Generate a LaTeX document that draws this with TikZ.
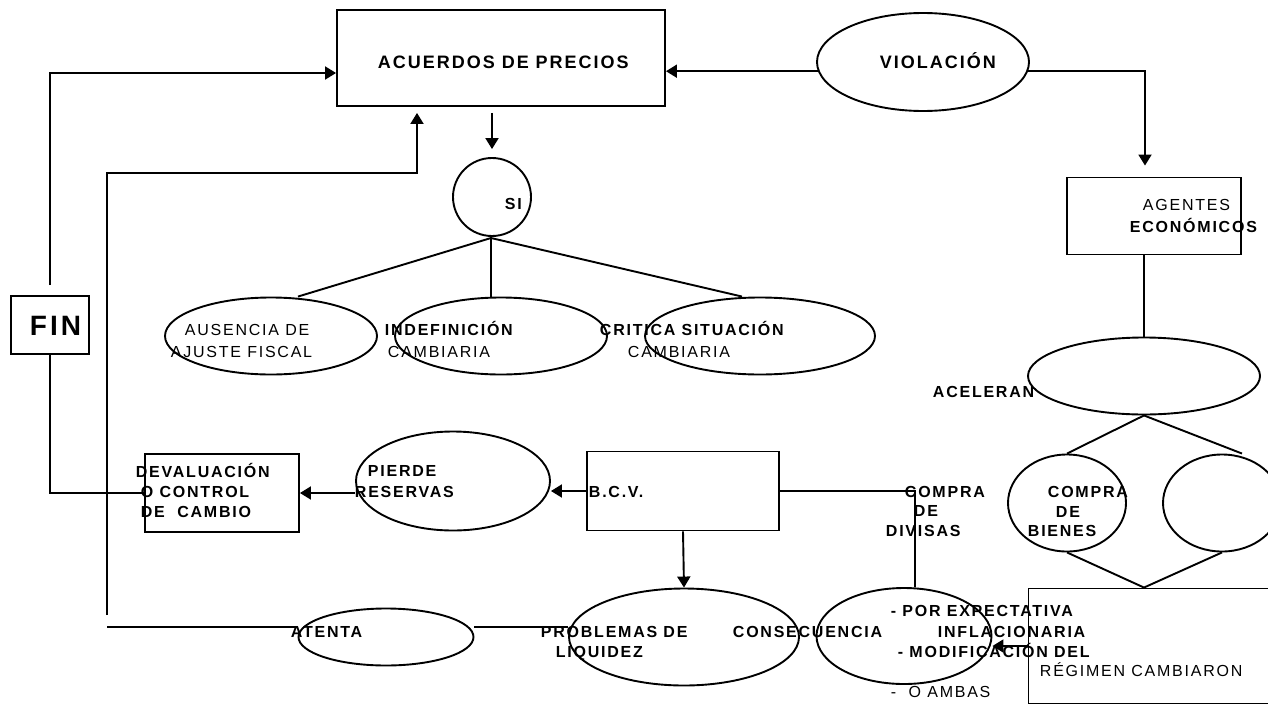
\documentclass[tikz,border=0pt]{standalone}
\usepackage{fontspec}
\setmainfont{Liberation Sans}[LetterSpace=11]
\usetikzlibrary{shapes.geometric,arrows.meta}

\begin{document}
\begin{tikzpicture}[x=1pt, y=-1pt, line width=1.9pt,
  box/.style={draw, rectangle, inner sep=0pt},
  oval/.style={draw, ellipse, inner sep=0pt},
  lbl/.style={anchor=base west, inner sep=0pt, font=\fontsize{16}{19}\selectfont\bfseries},
  lblr/.style={anchor=base west, inner sep=0pt, font=\fontsize{16}{19}\selectfont},
  arr/.style={-{Triangle[length=11pt,width=13pt]}}]
\useasboundingbox (0,0) rectangle (1268,704);
\clip (0,0) rectangle (1268,704);

% shapes
\node[box, minimum width=328pt, minimum height=96pt] (acuerdos) at (501,58) {};
\node[oval, minimum width=212pt, minimum height=98pt] (violacion) at (923,62) {};
\node[draw, circle, inner sep=0pt, minimum size=78pt] (si) at (492,197) {};
\node[oval, minimum width=212pt, minimum height=77pt] (ausencia) at (271,336) {};
\node[oval, minimum width=212pt, minimum height=77pt] (indef) at (501,336) {};
\node[oval, minimum width=230pt, minimum height=77pt] (critica) at (760,336) {};
\node[box, minimum width=174pt, minimum height=77pt] (agentes) at (1154,216) {};
\node[box, minimum width=78pt, minimum height=58pt] (fin) at (50,325) {};
\node[oval, minimum width=232pt, minimum height=77pt] (aceleran) at (1144,376) {};
\node[oval, minimum width=118pt, minimum height=97pt] (bienes) at (1067,503) {};
\node[oval, minimum width=118pt, minimum height=97pt] (vacia) at (1222,503) {};
\node[box, minimum width=154pt, minimum height=78pt] (devaluacion) at (222,493) {};
\node[oval, minimum width=194pt, minimum height=99pt] (pierde) at (453,481) {};
\node[box, minimum width=192pt, minimum height=79pt] (bcv) at (683,491) {};
\node[oval, minimum width=175pt, minimum height=57pt] (atenta) at (386,637) {};
\node[oval, minimum width=230pt, minimum height=97pt] (problemas) at (684,637) {};
\node[oval, minimum width=175pt, minimum height=96pt] (expectativa) at (904,636) {};
\node[box, minimum width=271pt, minimum height=115pt] (regimen) at (1164,646) {};

\coordinate (finup) at (50,285);
\coordinate (lazo) at (107,615);
\coordinate (rama) at (491,238);
\coordinate (divisas) at (915,491);
\coordinate (rombo) at (aceleran.south |- regimen.north);

% connectors
\draw[arr] (finup) |- (acuerdos.west |- 0,73);
\draw (fin.south) |- (devaluacion.west);
\draw (atenta.west |- 0,627) -- (107,627);
\draw[arr, shorten >=6pt] (lazo) -- (107,173) -- (417,173) -- (acuerdos.south -| 417,0);
\draw[arr] (violacion.185) -- (acuerdos.east |- violacion.185);
\draw[arr, shorten >=11pt] (violacion.-5) -| (agentes.north -| 1145,0);
\draw[arr, shorten <=6pt, shorten >=8pt] (acuerdos.south -| si.north) -- (si.north);
\draw (ausencia.north -| 298,0) -- (rama) -- (critica.north -| 742,0);
\draw (rama) -- (indef.north -| rama);
\draw (agentes.south -| aceleran.north) -- (aceleran.north);
\draw (bienes.north) -- (aceleran.south) -- (vacia.north -| 1242,0);
\draw (bienes.south) -- (rombo) -- (vacia.south);
\draw[arr] (bcv.west) -- (bcv.west -| pierde.east);
\draw[arr] (pierde.west |- devaluacion.east) -- (devaluacion.east);
\draw (bcv.east) -| (expectativa.north -| divisas);
\draw[arr] (bcv.south) -- (problemas.north);
\draw (atenta.east |- 0,627) -- (problemas.west |- 0,627);
\draw[arr] (regimen.west) -- (regimen.west -| expectativa.east);

% texts
\node[lbl, font=\fontsize{18}{21}\selectfont\bfseries] (tacuerdos) at (377,68) {ACUERDOS DE PRECIOS};
\node[lbl, font=\fontsize{18}{21}\selectfont\bfseries] (tviolacion) at (879,68) {VIOLACIÓN};
\node[lbl] (tsi) at (504,209) {SI};
\node[lblr] (tagentes) at (1142,210) {AGENTES};
\node[lbl] (teconomicos) at (1129,232) {ECONÓMICOS};
\node[lbl, font=\fontsize{28}{32}\selectfont\bfseries] (tfin) at (29,335) {FIN};
\node[lblr] (tausencia) at (184,335) {AUSENCIA DE};
\node[lblr] (tajuste) at (170,357) {AJUSTE FISCAL};
\node[lbl] (tindef) at (384,335) {INDEFINICIÓN};
\node[lblr] (tcambiaria) at (387,357) {CAMBIARIA};
\node[lbl] (tcritica) at (599,335) {CRITICA SITUACIÓN};
\node[lblr] (tcambiaria2) at (627,357) {CAMBIARIA};
\node[lbl] (tacelera) at (932,397) {ACELERAN};
\node[lbl] (tbienes1) at (1047,497) {COMPRA};
\node[lbl] (tbienes2) at (1055,517) {DE};
\node[lbl] (tbienes3) at (1027,536) {BIENES};
\node[lbl] (tdivisas1) at (904,497) {COMPRA};
\node[lbl] (tdivisas2) at (913,516) {DE};
\node[lbl] (tdivisas3) at (885,536) {DIVISAS};
\node[lbl] (tdeval1) at (135,477) {DEVALUACIÓN};
\node[lbl] (tdeval2) at (140,497) {O CONTROL};
\node[lbl] (tdeval3) at (140,517) {DE\ \ CAMBIO};
\node[lbl] (tpierde1) at (367,476) {PIERDE};
\node[lbl] (tpierde2) at (354,497) {RESERVAS};
\node[lbl] (tbcv) at (588,497) {B.C.V.};
\node[lbl] (tatenta) at (290,637) {ATENTA};
\node[lbl] (tproblemas1) at (540,637) {PROBLEMAS DE};
\node[lbl] (tproblemas2) at (555,657) {LIQUIDEZ};
\node[lbl] (tconsecuencia) at (732,637) {CONSECUENCIA};
\node[lbl] (texpect1) at (890,616) {- POR EXPECTATIVA};
\node[lbl] (texpect2) at (937,637) {INFLACIONARIA};
\node[lbl] (texpect3) at (897,657) {- MODIFICACIÓN DEL};
\node[lblr] (tregimen) at (1039,676) {RÉGIMEN CAMBIARON};
\node[lblr] (tambas) at (890,697) {-\ \ O AMBAS};
\end{tikzpicture}
\end{document}
